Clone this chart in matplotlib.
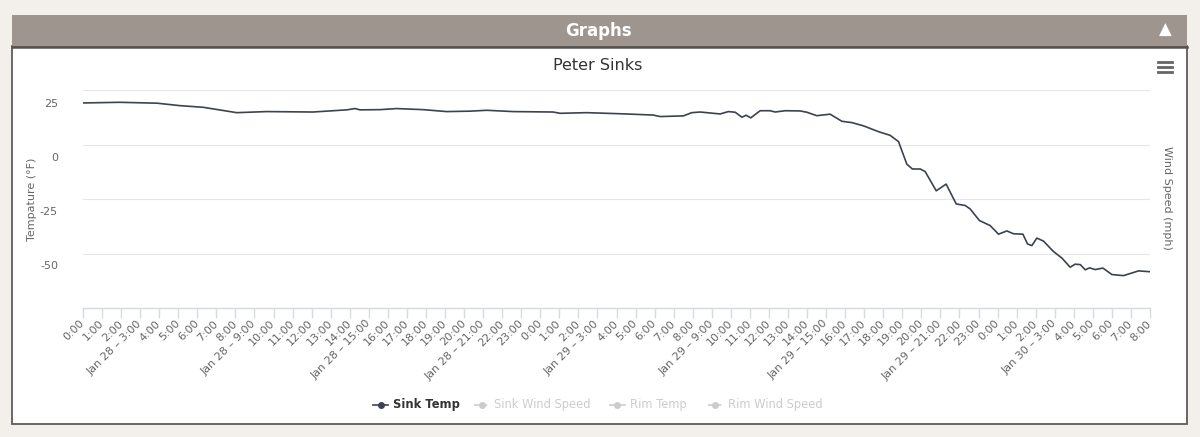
import matplotlib
matplotlib.use('Agg')
import matplotlib.pyplot as plt
from matplotlib.lines import Line2D
from matplotlib.patches import Rectangle

# hours since Jan 28 0:00
hours = [0.0, 1.94, 3.87, 5.09, 6.30, 8.07, 9.64, 12.07, 13.84, 14.28, 14.54,
         15.59, 16.47, 17.85, 19.09, 20.31, 21.19, 22.57, 24.67, 25.04, 26.44,
         28.19, 29.92, 30.29, 31.51, 31.95, 32.39, 33.44, 33.87, 34.23, 34.58,
         34.80, 35.05, 35.54, 36.06, 36.33, 36.85, 37.64, 37.99, 38.51, 39.21,
         39.83, 40.35, 40.96, 41.75, 42.36, 42.80, 43.24, 43.53, 43.94, 44.20,
         44.78, 45.30, 45.83, 46.30, 46.56, 47.05, 47.61, 48.05, 48.49, 48.83,
         49.33, 49.57, 49.80, 50.06, 50.41, 50.93, 51.38, 51.81, 52.07, 52.34,
         52.60, 52.83, 53.12, 53.53, 54.00, 54.61, 55.40, 56.0]
sink_temp = [25.0, 25.3, 24.9, 23.75, 23.0, 20.5, 21.0, 20.8, 21.8, 22.4, 21.8,
             21.9, 22.4, 21.9, 21.0, 21.2, 21.6, 21.0, 20.8, 20.2, 20.5,
             20.0, 19.4, 18.7, 19.0, 20.5, 20.8, 19.9, 21.0, 20.7, 18.4,
             19.3, 18.1, 21.4, 21.4, 20.8, 21.4, 21.3, 20.7, 19.1, 19.8,
             16.5, 15.9, 14.4, 11.7, 10.0, 7.1, -3.4, -5.6, -5.6, -6.8,
             -15.7, -12.6, -21.8, -22.5, -24.1, -29.5, -31.8, -35.8, -34.3, -35.6,
             -35.8, -40.3, -41.1, -37.6, -39.0, -43.8, -46.9, -51.1, -49.7, -49.9,
             -52.3, -51.4, -52.2, -51.5, -54.5, -55.0, -52.8, -53.2]

tick_hours = list(range(0, 57))
tick_labels = []
for h in tick_hours:
  hod = h % 24
  if hod % 6 == 3:
    tick_labels.append('Jan %d – %d:00' % (28 + h // 24, hod))
  else:
    tick_labels.append('%d:00' % hod)

temp_ticks = [25, 0, -25, -50]
legend_names = ['Sink Temp', 'Sink Wind Speed', 'Rim Temp', 'Rim Wind Speed']
legend_active = [True, False, False, False]
legend_dashed = [False, True, False, True]

W, H = 1200, 437
def fx(px):
  return px / W
def fy(py):
  return 1 - py / H

fig = plt.figure(figsize=(12, 4.37), dpi=100, facecolor='#f3f0ec')

# panel and header
fig.patches.append(Rectangle((fx(12), fy(424)), fx(1175), (424 - 46) / H,
                             transform=fig.transFigure, facecolor='white',
                             edgecolor='#5e5a57', lw=1.3, zorder=-3))
fig.patches.append(Rectangle((fx(12), fy(46)), fx(1175), 31 / H,
                             transform=fig.transFigure, facecolor='#9e968e',
                             edgecolor='none', zorder=-2))
fig.lines.append(Line2D([fx(12), fx(1187)], [fy(46.5), fy(46.5)],
                        transform=fig.transFigure, color='#58524d', lw=1.8))
fig.text(fx(598), fy(31), 'Graphs', ha='center', va='center', color='white',
         fontsize=12, fontweight='bold')
fig.text(fx(1165), fy(30), '▲', ha='center', va='center', color='white', fontsize=12)

# hamburger menu
for py in [62, 67, 72]:
  fig.lines.append(Line2D([fx(1158), fx(1172)], [fy(py), fy(py)],
                          transform=fig.transFigure, color='#666666', lw=2))

# chart
axg = fig.add_axes([fx(83), fy(308), fx(1150 - 83), (308 - 90) / H])
axg.set_xlim(0, 56)
axg.set_ylim(0, 4)
axg.set_yticks([0, 1, 2, 3, 4])
axg.set_xticks([])
axg.tick_params(left=False, labelleft=False)
axg.grid(True, axis='y', color='#e6e6e6', lw=0.8)
axg.patch.set_visible(False)
for s in axg.spines.values():
  s.set_visible(False)

ax = fig.add_axes([fx(83), fy(308), fx(1150 - 83), (308 - 90) / H])
ax.patch.set_visible(False)
ax.set_xlim(0, 56)
ax.set_ylim(-70, 31)
ax.plot(hours, sink_temp, color='#3b4351', lw=1.2)
for k in ['top', 'left', 'right']:
  ax.spines[k].set_visible(False)
ax.spines['bottom'].set_color('#d6dbe3')
ax.spines['bottom'].set_linewidth(1)

ax.set_xticks(tick_hours)
ax.set_xticklabels(tick_labels, rotation=45, ha='right', va='center',
                   rotation_mode='anchor', fontsize=8, color='#666666')
ax.tick_params(axis='x', length=7, color='#d6dbe3', width=1, pad=3)
ax.set_yticks(temp_ticks)
ax.set_yticklabels([str(t) for t in temp_ticks], fontsize=8, color='#666666')
ax.tick_params(axis='y', length=0, pad=18)

fig.text(fx(598), fy(66), 'Peter Sinks', ha='center', va='center',
         fontsize=11.5, color='#333333')
fig.text(fx(32), fy(199), 'Tempature (°F)', ha='center', va='center',
         rotation=90, fontsize=8, color='#666666')
fig.text(fx(1167), fy(198), 'Wind Speed (mph)', ha='center', va='center',
         rotation=270, fontsize=8, color='#666666')

# legend
icon_x = [373, 474, 610, 708]
for name, x0, act, dash in zip(legend_names, icon_x, legend_active, legend_dashed):
  col = '#3b4351' if act else '#cccccc'
  ls = (0, (3, 2)) if dash else '-'
  fig.lines.append(Line2D([fx(x0), fx(x0 + 15)], [fy(405), fy(405)],
                          transform=fig.transFigure, color=col, lw=1.2, ls=ls))
  fig.lines.append(Line2D([fx(x0 + 7.5)], [fy(405)], transform=fig.transFigure,
                          marker='o', ms=4, color=col, lw=0))
  fig.text(fx(x0 + 20), fy(404.5), name, ha='left', va='center', fontsize=8.3,
           color='#333333' if act else '#cccccc',
           fontweight='bold' if act else 'normal')

plt.savefig('out.png', dpi=100, facecolor=fig.get_facecolor())
